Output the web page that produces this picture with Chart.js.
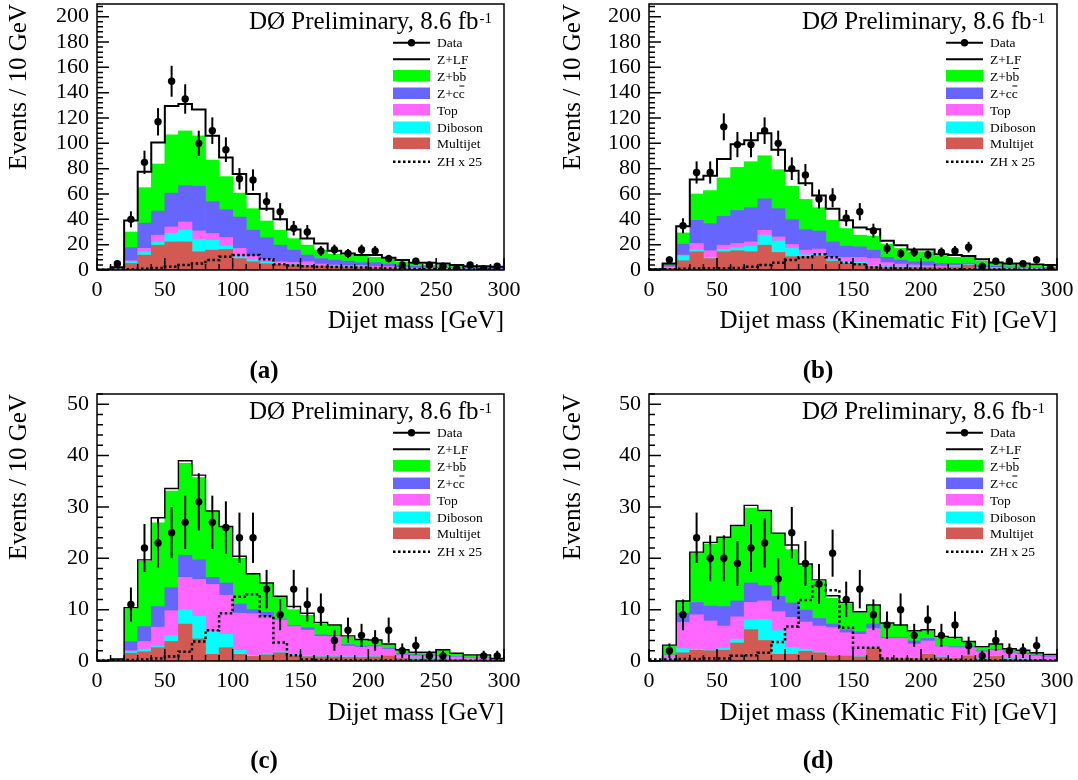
<!DOCTYPE html>
<html>
<head>
<meta charset="utf-8">
<script src="https://cdn.jsdelivr.net/npm/chart.js@4.4.1/dist/chart.umd.min.js"></script>
<style>
  body { margin: 0; background: #fff; }
  #fig { position: relative; width: 1078px; height: 780px; }
  canvas { position: absolute; }
  .cap { position: absolute; font: bold 25px 'Liberation Serif', serif; transform: translate(-50%, -50%); }
</style>
</head>
<body>
<div id="fig">
  <canvas id="pa" width="539" height="390" style="left:0;top:0"></canvas>
  <canvas id="pb" width="539" height="390" style="left:539px;top:0"></canvas>
  <canvas id="pc" width="539" height="390" style="left:0;top:390px"></canvas>
  <canvas id="pd" width="539" height="390" style="left:539px;top:390px"></canvas>
  <div class="cap" style="left:264px;top:370px">(a)</div>
  <div class="cap" style="left:818px;top:370px">(b)</div>
  <div class="cap" style="left:264px;top:760px">(c)</div>
  <div class="cap" style="left:818px;top:760px">(d)</div>
</div>
<script>
// bins: 10 GeV wide, centres and edges
const massBins = [5,15,25,35,45,55,65,75,85,95,105,115,125,135,145,155,165,175,185,195,205,215,225,235,245,255,265,275,285,295];
const binEdges = [0,10,20,30,40,50,60,70,80,90,100,110,120,130,140,150,160,170,180,190,200,210,220,230,240,250,260,270,280,290,300];
const xTicks = [0,50,100,150,200,250,300];
const yTicksTop = [0,20,40,60,80,100,120,140,160,180,200];
const yTicksBottom = [0,10,20,30,40,50];

// (a) dijet mass
const multijetA = [0.1,0.5,5.2,11.8,19.6,22.2,22.2,14.4,15.7,16.2,9,6.5,5,4.5,4,3.4,3,2.6,2.2,2,1.8,1.5,1.2,1,0.9,0.8,0.7,0.6,0.5,0.5];
const dibosonA = [0,0.1,1.3,2.2,2.6,6.6,9.2,9.6,7.8,2.6,1.5,1.5,1,0.7,0.6,0.5,0.4,0.4,0.4,0.4,0.3,0.3,0.3,0.2,0.2,0.2,0.2,0.2,0.2,0.1];
const topA = [0,0.2,0.8,3,5.3,5.2,6.5,6.8,5.3,6.8,6.5,3,2.4,1.3,1.4,2.6,1.3,1,0.8,1.2,0.9,0.8,0.5,0.5,0.4,0.3,0.3,0.2,0.2,0.2];
const zccA = [0.1,0.2,10.5,20,19,26.7,28.8,35.3,25.3,22,24.8,20.4,17.2,13.1,9.7,5.3,4.3,3.8,3.6,2.2,2.8,2.1,1.4,1.3,1.1,1,0.8,0.8,0.7,0.6];
const zbbA = [0.1,1,12.2,28,37.2,46,43.1,39.8,32.7,26.1,18.9,17,13.1,11.8,9.1,7.8,6.7,4.7,4.5,5.2,4.2,3.7,3.1,1.7,1.4,1.7,1.2,0.8,1,0.7];
const zlfA = [0,0.2,9,12.6,16.9,22.7,21.2,20.9,19.1,15.2,15.1,11.6,9.7,8.6,7.1,5.2,5.3,2.7,1.5,0.8,1.8,1.3,1.3,1.1,1.8,1.2,0.8,0.4,0.4,0.5];
const dataA = [null,5,40,85,117,149,135,100,110,95,72,71,54,46,33,30,15,16,13,16,15,9,4,7,4,3,1,4,1,3];
const zhA = [0.2,0.3,0.5,1,1.5,2.6,3.9,5.2,7.8,10.5,11.8,11.8,8.4,4.5,3.5,3,2.6,2.4,2.2,2,1.5,1.2,1,0.8,0.6,0.5,0.4,0.3,0.3,0.2];

// (b) dijet mass, kinematic fit
const multijetB = [0.1,1.3,7.3,14.4,9,14.4,15.2,14.4,19.6,13.9,10.5,10.5,11,7,5.2,5.2,2.6,2,2,2,2,1.8,2.5,3.9,1,1,0.8,0.7,0.6,0.5];
const dibosonB = [0,0.3,3.7,1.3,1,1.8,2.3,4.4,7.9,9.1,6.5,1.5,1.5,0.8,1.3,0.8,0.8,0.6,0.5,0.4,0.3,0.3,0.3,0.3,0.3,0.2,0.2,0.2,0.2,0.2];
const topB = [0,1,0.8,5.2,5.2,3.4,3.4,3.4,3.9,3.1,3.1,3.7,4,2.2,3.5,4,5.6,3.2,2.2,1.6,1.1,0.9,0.8,0.5,0.7,0.8,0.6,0.4,0.4,0.3];
const zccB = [0.1,1.4,8.6,18.3,21.4,22.8,26.1,27,24.8,22.3,19.6,16.2,14.3,12.2,8.8,8.3,6.7,4.2,3.1,2.5,3.1,2.2,1.6,0.8,1.4,1,0.8,0.7,0.6,0.5];
const zbbB = [0.2,1,8.9,20.8,26.1,30.3,34,36.3,34,30.8,26.4,23.8,18.4,17,13.9,9.2,11,10.4,9.2,7.9,7.9,5.8,4.8,4.5,3.6,2.8,2,1.9,1.2,1.1];
const zlfB = [0.1,0.2,5.2,11.4,11.8,14.9,18.3,17,17.8,15.8,12.3,12.8,9.6,9.2,6.5,6,5.5,2.6,2.6,1.8,1.8,1.5,1.8,1,1.4,0.2,0.8,1.3,1.4,1.3];
const dataB = [null,8,35,77,77,113,99,99,110,100,80,75,56,57,41,46,31,17,13,14,12,14,15,18,3,7,7,5,8,1];
const zhB = [0.3,0.5,1,1.2,1.3,1.3,1.5,2.6,4,5.8,7.8,10,12.5,10,5.8,4.5,2,1.5,1.2,1,0.8,0.7,0.6,0.5,0.4,0.3,0.3,0.2,0.2,0.2];

// (c) dijet mass, second selection
const multijetC = [0,0.1,1.5,1.8,2.6,3.8,7.2,4.3,1.3,2.6,1.3,0.9,1.2,1.6,1,0.85,0.8,0.8,0.7,0.7,0.8,1,0.5,0.4,0.4,0.3,0.3,0.2,0.2,0.2];
const dibosonC = [0,0,0.3,0.5,0.3,1.1,2.8,4.4,4.5,2.6,0.8,0.2,0.2,0.2,0.2,0.15,0.1,0.1,0.1,0.1,0.1,0.1,0.1,0.1,0.1,0.1,0.05,0.1,0.1,0];
const topC = [0,0.05,0.2,1.5,3.7,4.9,6.3,7.2,9.1,7.6,7.2,8.1,7.2,6.2,5.5,5,3.9,3.9,2.1,1.9,1.9,1.2,0.6,0.5,0.5,0.45,0.45,0.3,0.3,0.2];
const zccC = [0,0.05,1.8,2.9,4,4.5,4.3,3.8,1.4,2.4,1.8,0.8,0.9,0.2,0.2,0.5,0.3,0.2,0.3,0.2,0.2,0.2,0.2,0.2,0.2,0.25,0.1,0.1,0.1,0.05];
const zbbC = [0.1,0.2,6.4,12.7,16.3,18.8,17.9,16,12.7,11,8.9,6.9,5.5,4.3,3.1,2.4,2.1,1.8,1.5,1.1,0.9,0.7,0.7,0.4,0.4,1,0.5,0.4,0.4,0.05];
const zlfC = [0.05,0,0.2,0.3,1,0.5,0.5,0.5,0.2,0,0.4,0.1,0.2,0.1,0.6,0.4,0.3,0.2,0.2,0.2,0.2,0.1,0.1,0.1,0.1,0.1,0.1,0.1,0.1,0];
const dataC = [null,null,11,22,23,25,27,31,27,26,24,24,14,9,14,11,10,4,6,5,4,6,2,3,1,1,null,null,1,1];
const zhC = [0.1,0.1,0.2,0.3,0.5,0.9,1.8,3.8,6,9.3,12.5,13,8.7,3.6,1.1,0.3,0.2,0.2,0.1,0.1,0.1,0.1,0.1,0.1,0.05,0.05,0.05,0.05,0.05,0.05];

// (d) kinematic fit, second selection
const multijetD = [0,0.3,1.6,2.1,2,2.1,3.5,6.1,4,1.3,1.3,1.9,1.6,1,1,0.8,2.6,0.5,0.5,0.5,1.3,0.7,0.5,1,0.4,0.9,0.4,0.3,0.3,0.2];
const dibosonD = [0,0.1,0.8,0.2,0.1,0.4,0.7,1.9,4.1,4.6,1.3,0.4,0.2,0.1,0.1,0.1,0.1,0.1,0.1,0.1,0.1,0.1,0.1,0.1,0.1,0.1,0.1,0.1,0.05,0.1];
const topD = [0,0.7,5.1,6.7,5.7,4.3,4.4,3.4,3.6,3.7,5.9,5.3,5,5.4,4.4,4.3,3.6,3.8,3.8,2.7,2.5,2,2,1.5,1.3,1.1,1.1,0.9,0.65,0.5];
const zccD = [0,0.1,1.8,2.4,2.9,3.8,3.1,3.8,3,3,2.8,2.3,1.5,0.7,0.6,0.5,0.9,0.2,0.2,0.6,0.5,0.1,0.2,0.2,0.2,0.2,0.2,0.2,0.2,0.2];
const zbbD = [0,1.7,2.4,9.6,12.1,13.4,14.5,14.6,14.4,12.2,10.4,8.7,7.2,5,5,3.7,3.5,2.6,2.2,1.8,1.5,1.7,1.6,0.9,0.7,0.9,0.5,0.5,0.3,0.2];
const zlfD = [0.05,0.2,0,0.2,0.3,0.1,0.2,0.5,0.2,0.1,0.9,0.3,0.3,0.5,0.3,0.2,0.2,0.2,0.2,0.2,0.2,0.2,0.2,0.1,0.1,0.1,0.1,0.1,0.1,0.1];
const dataD = [null,2,9,24,20,20,19,22,23,16,25,19,15,21,12,14,9,7,10,5,8,5,7,3,1,4,2,2,3,null];
const zhD = [0.3,0.3,0.4,0.4,0.5,0.5,1,1.1,1.6,3.7,6.7,11.9,14.8,13.8,6.5,2.6,2.6,0.5,0.4,0.3,0.3,0.2,0.2,0.2,0.1,0.1,0.1,0.1,0.1,0.1];

const SERIF = "'Liberation Serif', 'DejaVu Serif', serif";
const colors = { multijet: '#d25a52', diboson: '#00ffff', top: '#ff66ff', zcc: '#6666ff', zbb: '#00ff00' };

const toXY = arr => massBins.map((x, i) => ({ x: x, y: arr[i] }));
const toSteps = arr => binEdges.map((x, i) => ({ x: x, y: arr[Math.min(i, arr.length - 1)] }));

// frame + ROOT style inward ticks
const frameTicks = {
  id: 'frameTicks',
  afterDatasetsDraw(chart, args, opts) {
    const { ctx, chartArea: a, scales: { x, y } } = chart;
    ctx.save();
    ctx.strokeStyle = '#000';
    ctx.lineWidth = 1.5;
    ctx.strokeRect(a.left, a.top, a.right - a.left, a.bottom - a.top);
    ctx.beginPath();
    for (let k = 0; k <= 30; k++) {
      const px = x.getPixelForValue(k * 10);
      const len = k % 5 === 0 ? 12 : 6;
      ctx.moveTo(px, a.bottom); ctx.lineTo(px, a.bottom - len);
    }
    for (let k = 0; k * opts.minor <= y.max; k++) {
      const py = y.getPixelForValue(k * opts.minor);
      const len = k % 5 === 0 ? 12 : 6;
      ctx.moveTo(a.left, py); ctx.lineTo(a.left + len, py);
    }
    ctx.stroke();
    ctx.restore();
  }
};

// sqrt(N) error bars under the data markers
const errorBars = {
  id: 'errorBars',
  beforeDatasetDraw(chart, args) {
    const ds = chart.data.datasets[args.index];
    if (ds.label !== 'Data') return;
    const { ctx, chartArea: a, scales: { y } } = chart;
    ctx.save();
    ctx.beginPath();
    ctx.rect(a.left, a.top, a.right - a.left, a.bottom - a.top);
    ctx.clip();
    ctx.strokeStyle = '#000';
    ctx.lineWidth = 2;
    args.meta.data.forEach((pt, i) => {
      const v = ds.data[i].y;
      if (v === null) return;
      const e = Math.sqrt(v);
      ctx.beginPath();
      ctx.moveTo(pt.x, y.getPixelForValue(v + e));
      ctx.lineTo(pt.x, y.getPixelForValue(Math.max(v - e, 0)));
      ctx.stroke();
    });
    ctx.restore();
  }
};

// "DØ Preliminary" label and the legend box
const panelText = {
  id: 'panelText',
  afterDraw(chart) {
    const { ctx, chartArea: a } = chart;
    ctx.save();
    ctx.fillStyle = '#000';
    ctx.textBaseline = 'alphabetic';
    ctx.font = '25px ' + SERIF;
    const main = 'DØ Preliminary, 8.6 fb';
    const wMain = ctx.measureText(main).width;
    ctx.font = '15px ' + SERIF;
    const wSup = ctx.measureText('-1').width;
    const xEnd = a.right - 12;
    ctx.font = '25px ' + SERIF;
    ctx.fillText(main, xEnd - wSup - 1 - wMain, a.top + 25);
    ctx.font = '15px ' + SERIF;
    ctx.fillText('-1', xEnd - wSup, a.top + 18.5);

    const x0 = a.right - 111, x1 = a.right - 74, tx = a.right - 67;
    const rows = [
      { t: 'data', label: 'Data', dy: 38.7 },
      { t: 'line', label: 'Z+LF', dy: 55.3 },
      { t: 'box', label: 'Z+bb', color: colors.zbb, dy: 72, bar: true },
      { t: 'box', label: 'Z+cc', color: colors.zcc, dy: 89.5, bar: true },
      { t: 'box', label: 'Top', color: colors.top, dy: 106 },
      { t: 'box', label: 'Diboson', color: colors.diboson, dy: 123.5 },
      { t: 'box', label: 'Multijet', color: colors.multijet, dy: 139.5 },
      { t: 'dot', label: 'ZH x 25', dy: 157.7 }
    ];
    ctx.font = '13.5px ' + SERIF;
    ctx.textBaseline = 'middle';
    rows.forEach(r => {
      const ry = a.top + r.dy;
      ctx.strokeStyle = '#000';
      if (r.t === 'box') {
        ctx.fillStyle = r.color;
        ctx.fillRect(x0, ry - 6, x1 - x0, 11.5);
      } else {
        ctx.lineWidth = r.t === 'dot' ? 2.5 : 2;
        ctx.setLineDash(r.t === 'dot' ? [2.5, 2.5] : []);
        ctx.beginPath(); ctx.moveTo(x0, ry); ctx.lineTo(x1, ry); ctx.stroke();
        ctx.setLineDash([]);
        if (r.t === 'data') {
          ctx.fillStyle = '#000';
          ctx.beginPath(); ctx.arc((x0 + x1) / 2, ry, 3.7, 0, Math.PI * 2); ctx.fill();
        }
      }
      ctx.fillStyle = '#000';
      ctx.fillText(r.label, tx, ry + 1);
      if (r.bar) {
        const w1 = ctx.measureText(r.label.slice(0, -1)).width;
        const w2 = ctx.measureText(r.label).width;
        ctx.lineWidth = 1;
        ctx.beginPath(); ctx.moveTo(tx + w1 + 0.5, ry - 7.5); ctx.lineTo(tx + w2 - 0.5, ry - 7.5); ctx.stroke();
      }
    });
    ctx.restore();
  }
};

function makePanel(p) {
  const total = p.multijet.map((v, i) => v + p.diboson[i] + p.top[i] + p.zcc[i] + p.zbb[i] + p.zlf[i]);
  const bar = (label, arr, color, order) => ({
    type: 'bar', label: label, data: toXY(arr), backgroundColor: color, borderWidth: 0,
    stack: 'mc', order: order, categoryPercentage: 1, barPercentage: 1
  });
  new Chart(document.getElementById(p.id), {
    type: 'bar',
    data: {
      datasets: [
        { type: 'line', label: 'Data', data: toXY(p.data), showLine: false, stack: 'data', order: 0,
          pointRadius: 3.7, pointBackgroundColor: '#000', pointBorderColor: '#000', pointBorderWidth: 0 },
        { type: 'line', label: 'ZH x 25', data: toSteps(p.zh), stepped: true, stack: 'zh', order: 1,
          borderColor: '#000', borderWidth: 2.5, borderDash: [2.5, 2.5], pointRadius: 0, fill: false },
        { type: 'line', label: 'Total', data: toSteps(total), stepped: true, stack: 'total', order: 2,
          borderColor: '#000', borderWidth: p.lw, pointRadius: 0, fill: false },
        bar('Multijet', p.multijet, colors.multijet, 3),
        bar('Diboson', p.diboson, colors.diboson, 4),
        bar('Top', p.top, colors.top, 5),
        bar('Z+cc', p.zcc, colors.zcc, 6),
        bar('Z+bb', p.zbb, colors.zbb, 7),
        bar('Z+LF', p.zlf, '#ffffff', 8)
      ]
    },
    options: {
      responsive: false,
      animation: false,
      devicePixelRatio: 1,
      layout: { padding: { left: 0, right: p.padR, top: p.padT, bottom: 0 } },
      plugins: { legend: { display: false }, tooltip: { enabled: false }, frameTicks: { minor: p.minor } },
      scales: {
        x: {
          type: 'linear', min: 0, max: 300, offset: false,
          grid: { display: false, drawTicks: false }, border: { display: false },
          afterBuildTicks: s => { s.ticks = xTicks.map(v => ({ value: v })); },
          afterFit: s => { s.height = p.xH; s.paddingLeft = 0; s.paddingRight = 0; },
          ticks: { color: '#000', font: { family: SERIF, size: 22 }, padding: 7, maxRotation: 0, autoSkip: false },
          title: { display: true, text: p.xTitle, align: 'end', color: '#000',
                   font: { family: SERIF, size: 25 }, padding: { top: 0, bottom: p.xTitlePad } }
        },
        y: {
          min: 0, max: p.yMax, stacked: true,
          grid: { display: false, drawTicks: false }, border: { display: false },
          afterBuildTicks: s => { s.ticks = p.yTicks.map(v => ({ value: v })); },
          afterFit: s => { s.width = p.axisW; s.paddingTop = 0; s.paddingBottom = 0; },
          ticks: { color: '#000', font: { family: SERIF, size: 22 }, padding: 8, autoSkip: false },
          title: { display: true, text: 'Events / 10 GeV', align: 'end', color: '#000',
                   font: { family: SERIF, size: 25 }, padding: { top: p.yTitlePad, bottom: 0 } }
        }
      }
    },
    plugins: [errorBars, frameTicks, panelText]
  });
}

makePanel({ id: 'pa', multijet: multijetA, diboson: dibosonA, top: topA, zcc: zccA, zbb: zbbA, zlf: zlfA, data: dataA, zh: zhA,
  yMax: 210, yTicks: yTicksTop, minor: 4, axisW: 97, padR: 35, padT: 3, xH: 120, xTitlePad: 54, yTitlePad: 4.5,
  xTitle: 'Dijet mass [GeV]', lw: 2 });
makePanel({ id: 'pb', multijet: multijetB, diboson: dibosonB, top: topB, zcc: zccB, zbb: zbbB, zlf: zlfB, data: dataB, zh: zhB,
  yMax: 210, yTicks: yTicksTop, minor: 4, axisW: 110, padR: 21, padT: 3, xH: 120, xTitlePad: 54, yTitlePad: 19,
  xTitle: 'Dijet mass (Kinematic Fit) [GeV]', lw: 2 });
makePanel({ id: 'pc', multijet: multijetC, diboson: dibosonC, top: topC, zcc: zccC, zbb: zbbC, zlf: zlfC, data: dataC, zh: zhC,
  yMax: 52, yTicks: yTicksBottom, minor: 2, axisW: 97, padR: 35, padT: 4, xH: 119, xTitlePad: 52, yTitlePad: 4.5,
  xTitle: 'Dijet mass [GeV]', lw: 1.4 });
makePanel({ id: 'pd', multijet: multijetD, diboson: dibosonD, top: topD, zcc: zccD, zbb: zbbD, zlf: zlfD, data: dataD, zh: zhD,
  yMax: 52, yTicks: yTicksBottom, minor: 2, axisW: 110, padR: 21, padT: 4, xH: 119, xTitlePad: 52, yTitlePad: 19,
  xTitle: 'Dijet mass (Kinematic Fit) [GeV]', lw: 1.4 });
</script>
</body>
</html>
